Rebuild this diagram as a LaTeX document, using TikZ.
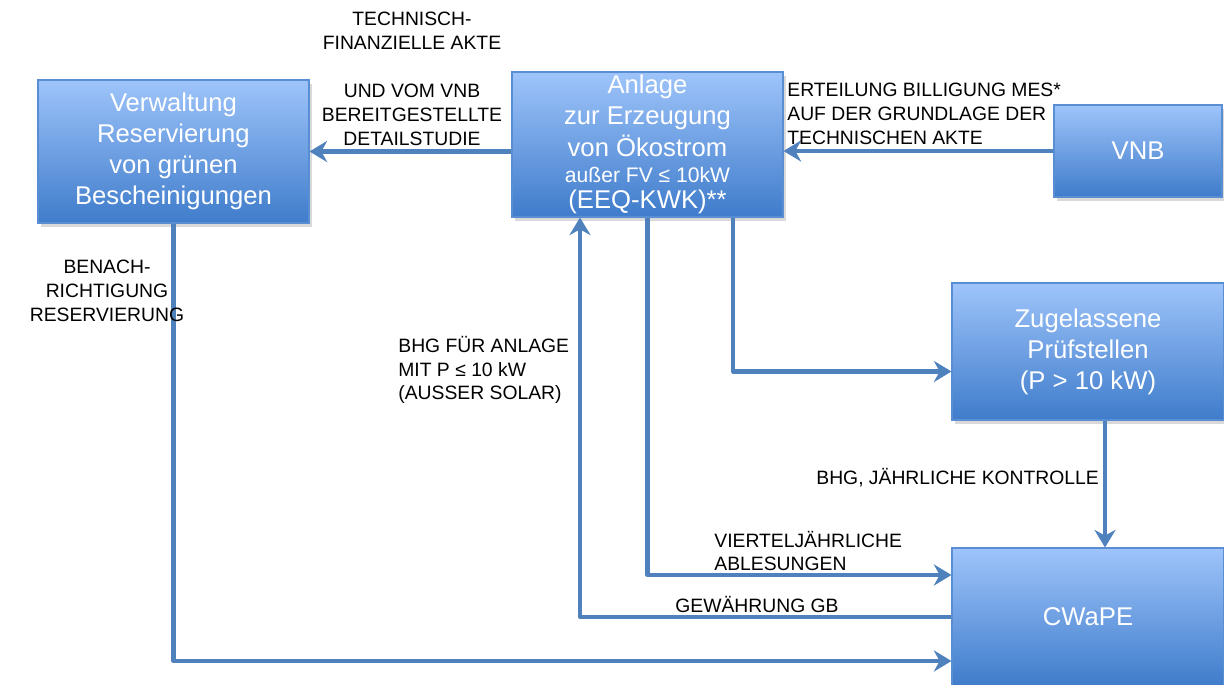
\documentclass[tikz,border=0pt]{standalone}
\usepackage{fontspec}
\setmainfont{Liberation Sans}
\usetikzlibrary{calc,positioning,arrows.meta,shadows}
\definecolor{boxtop}{HTML}{9EC4FA}
\definecolor{boxbot}{HTML}{3F7CCB}
\definecolor{boxline}{HTML}{5A8ED2}
\definecolor{linkblue}{HTML}{4F81BD}

\begin{document}
\begin{tikzpicture}
\tikzstyle{box}=[rectangle, draw=boxline, line width=0.6pt,
                 top color=boxtop, bottom color=boxbot, text=white,
                 align=center, inner sep=0pt,
                 font=\fontsize{14.6}{17.6}\selectfont,
                 drop shadow={opacity=0.3, shadow xshift=0.06, shadow yshift=-0.08}]
\tikzstyle{lbl}=[inner sep=0pt, font=\fontsize{11}{13.6}\selectfont]
\tikzstyle{link}=[draw=linkblue, line width=2.3pt, line join=round,
                  -{Stealth[length=10pt,width=12pt]}]
\useasboundingbox (0,0) rectangle (24.48,13.68);
% boxes
\node[box, minimum width=5.42cm, minimum height=2.86cm] (verw) at (3.47,10.65)
  {Verwaltung\\Reservierung\\von grünen\\Bescheinigungen};
\node[box, minimum width=5.42cm, minimum height=2.9cm] (anl) at (12.95,10.79)
  {Anlage\\zur Erzeugung\\[0.6pt]von Ökostrom\\[-3pt]{\fontsize{12}{14}\selectfont außer FV ≤ 10kW}\\[-2.5pt](EEQ-KWK)**};
\node[box, minimum width=3.36cm, minimum height=1.84cm] (vnb) at (22.76,10.66) {VNB};
\node[box, minimum width=5.44cm, minimum height=2.74cm] (pruef) at (21.76,6.65)
  {Zugelassene\\Prüfstellen\\(P > 10 kW)};
\node[box, minimum width=5.44cm, minimum height=2.76cm] (cwape) at (21.76,1.34) {CWaPE};
% ends of the connectors
\coordinate (gbFoot) at ([xshift=-1.35cm]anl.south);
\coordinate (prFoot) at ([xshift=1.71cm]anl.south);
\coordinate (ablIn) at ([yshift=0.84cm]cwape.west);
\coordinate (notIn) at ([yshift=-0.88cm]cwape.west);
\coordinate (prIn) at ([yshift=-0.4cm]pruef.west);
\coordinate (prOut) at ([xshift=0.34cm]pruef.south);
% connectors
\draw[link] (anl.west |- verw.east) -- (verw.east);
\draw[link] (vnb.west) -- (vnb.west -| anl.east);
\draw[link] (verw.south) |- (notIn);
\draw[link] (cwape.west) -| (gbFoot);
\draw[link] (anl.south) |- (ablIn);
\draw[link] (prFoot) |- (prIn);
\draw[link] (prOut) -- (prOut |- cwape.north);
% labels
\node[lbl, align=center] (techLbl) at (8.24,12.1)
  {TECHNISCH-\\FINANZIELLE AKTE\\[13.6pt]UND VOM VNB\\BEREITGESTELLTE\\DETAILSTUDIE};
\node[lbl, align=left, anchor=west] (mesLbl) at (15.74,11.4)
  {ERTEILUNG BILLIGUNG MES*\\AUF DER GRUNDLAGE DER\\TECHNISCHEN AKTE};
\node[lbl, align=center] (benLbl) at (2.14,7.87) {BENACH-\\RICHTIGUNG\\RESERVIERUNG};
\node[lbl, align=left, anchor=west] (bhgLbl) at (7.96,6.28)
  {BHG FÜR ANLAGE\\MIT P ≤ 10 kW\\(AUSSER SOLAR)};
\node[lbl, anchor=west] (kontLbl) at (16.32,4.12) {BHG, JÄHRLICHE KONTROLLE};
\node[lbl, align=left, anchor=west] (ablLbl) at (14.28,2.66) {VIERTELJÄHRLICHE\\ABLESUNGEN};
\node[lbl, anchor=west] (gbLbl) at (13.5,1.58) {GEWÄHRUNG GB};
\end{tikzpicture}
\end{document}
